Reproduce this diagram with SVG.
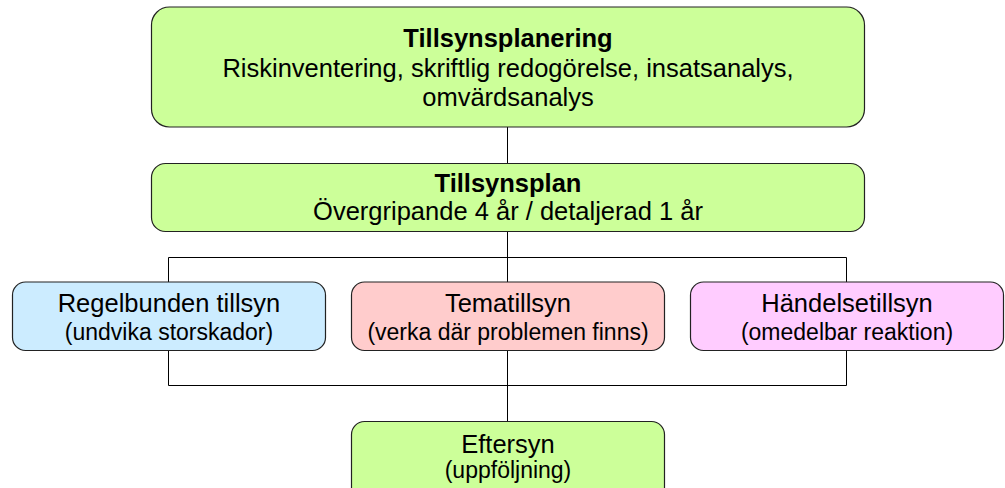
<svg xmlns="http://www.w3.org/2000/svg" width="1005" height="488" viewBox="0 0 1005 488">
<style>
.box{stroke:#222;stroke-width:1.2}
.g{fill:#CCFF99}.b{fill:#CCECFF}.r{fill:#FFCCCC}.m{fill:#FFCCFF}
text{font-family:"Liberation Sans",Arial,Helvetica,sans-serif;text-anchor:middle;fill:#000}
.t{font-size:25.5px;font-weight:bold}
.l{font-size:25.5px}
.s{font-size:23px}
.c{fill:none;stroke:#000;stroke-width:1}
</style>
<rect width="1005" height="488" fill="#fff"/>
<g id="connectors">
<path class="c" d="M507.5 127V163M507.5 231V386M168.5 282V257.5H846.5V282M168.5 351V385.5H846.5V351M507.5 386V421"/>
</g>
<g id="n1">
<rect class="box g" x="151.5" y="7" width="713" height="120" rx="18"/>
<text class="t" x="508" y="46.5">Tillsynsplanering</text>
<text class="l" x="508" y="77">Riskinventering, skriftlig redogörelse, insatsanalys,</text>
<text class="l" x="508" y="105.5">omvärdsanalys</text>
</g>
<g id="n2">
<rect class="box g" x="151.5" y="163.5" width="713" height="68" rx="14"/>
<text class="t" x="508" y="191.5">Tillsynsplan</text>
<text class="l" x="508" y="220">Övergripande 4 år / detaljerad 1 år</text>
</g>
<g id="n3">
<rect class="box b" x="12.5" y="282" width="313" height="68.5" rx="13"/>
<text class="l" x="169" y="312">Regelbunden tillsyn</text>
<text class="s" x="169" y="340">(undvika storskador)</text>
</g>
<g id="n4">
<rect class="box r" x="351.5" y="282" width="313" height="68.5" rx="13"/>
<text class="l" x="508" y="312">Tematillsyn</text>
<text class="s" x="508" y="340">(verka där problemen finns)</text>
</g>
<g id="n5">
<rect class="box m" x="690.5" y="282" width="313" height="68.5" rx="13"/>
<text class="l" x="847" y="312">Händelsetillsyn</text>
<text class="s" x="847" y="340">(omedelbar reaktion)</text>
</g>
<g id="n6">
<rect class="box g" x="351.5" y="421.5" width="313" height="80" rx="13"/>
<text class="l" x="508" y="453">Eftersyn</text>
<text class="s" x="508" y="478">(uppföljning)</text>
</g>
</svg>
